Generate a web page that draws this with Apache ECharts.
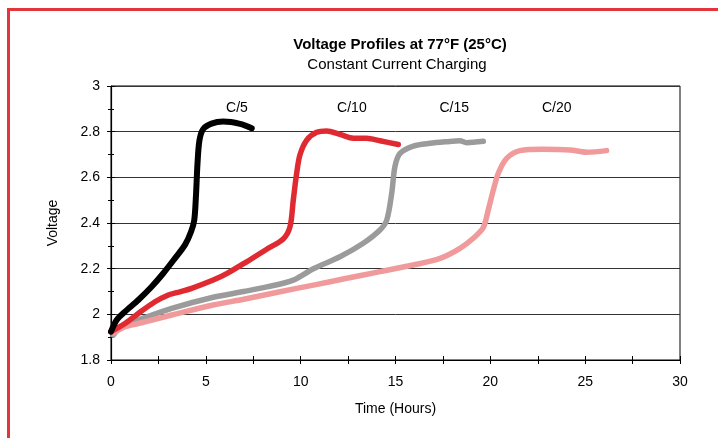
<!DOCTYPE html>
<html>
<head>
<meta charset="utf-8">
<script src="https://cdn.jsdelivr.net/npm/echarts@6/dist/echarts.min.js"></script>
<style>
html,body{margin:0;padding:0;background:#fff;}
#chart{width:718px;height:438px;}
</style>
</head>
<body>
<div id="chart"></div>
<script>
// ---- data ----
const c5X  = [0, 0.30, 0.74, 1.44, 2.14, 2.76, 3.37, 3.90, 4.22, 4.39, 4.48, 4.56, 4.66, 4.85, 5.30, 5.92, 6.80, 7.42];
const c5Y  = [1.924, 1.975, 2.012, 2.063, 2.121, 2.18, 2.245, 2.304, 2.362, 2.413, 2.52, 2.66, 2.76, 2.81, 2.835, 2.844, 2.834, 2.815];

const c10X = [0, 0.74, 1.44, 2.32, 3.02, 3.46, 4.25, 5.39, 6.10, 7.15, 8.21, 9.08, 9.44, 9.61, 9.79, 9.96, 10.32, 10.84, 11.37, 12.07, 12.78, 13.48, 14.18, 15.15];
const c10Y = [1.924, 1.96, 2.004, 2.055, 2.085, 2.095, 2.114, 2.15, 2.178, 2.23, 2.285, 2.33, 2.384, 2.50, 2.618, 2.698, 2.763, 2.797, 2.803, 2.788, 2.771, 2.771, 2.76, 2.744];

const c15X = [0.12, 0.56, 1.44, 3.20, 5.39, 7.00, 8.21, 9.61, 10.67, 12.07, 13.30, 14.18, 14.54, 14.80, 14.97, 15.24, 15.94, 16.82, 17.70, 18.40, 18.75, 19.63];
const c15Y = [1.909, 1.946, 1.975, 2.026, 2.075, 2.10, 2.12, 2.15, 2.20, 2.252, 2.311, 2.369, 2.413, 2.53, 2.647, 2.705, 2.737, 2.749, 2.756, 2.76, 2.752, 2.758];

const c20X = [0.12, 0.74, 1.44, 3.20, 5.39, 7.00, 8.91, 10.67, 12.43, 14.18, 15.94, 17.35, 18.40, 19.10, 19.63, 19.89, 20.16, 20.42, 20.86, 21.56, 22.79, 24.20, 25.08, 26.13];
const c20Y = [1.917, 1.946, 1.96, 1.997, 2.041, 2.066, 2.099, 2.128, 2.158, 2.187, 2.216, 2.245, 2.289, 2.333, 2.38, 2.457, 2.545, 2.618, 2.683, 2.717, 2.723, 2.72, 2.71, 2.717];

const curveLabels = ['C/5', 'C/10', 'C/15', 'C/20'];
const curveLabelX = [6.64, 12.7, 18.1, 23.5];
const curveLabelY = [2.904, 2.904, 2.904, 2.904];

const titleText = 'Voltage Profiles at 77°F (25°C)';
const subtitleText = 'Constant Current Charging';
const xName = 'Time (Hours)';
const yName = 'Voltage';

// ---- build ----
const zip = (xs, ys) => xs.map((x, i) => [x, ys[i]]);
const FONT = '"Liberation Sans", Arial, sans-serif';

const chart = echarts.init(document.getElementById('chart'), null, {renderer: 'canvas'});

function xAxisCfg(inside) {
  return {
    type: 'value', min: 0, max: 30, interval: 5, position: 'bottom',
    name: inside ? '' : xName, nameLocation: 'middle', nameGap: 42,
    nameTextStyle: {fontFamily: FONT, fontSize: 14, color: '#000'},
    axisLine: {show: !inside, onZero: false, lineStyle: {color: '#000', width: 1.2}},
    axisTick: {show: true, inside: inside, length: 4, lineStyle: {color: '#000'}},
    minorTick: {show: true, splitNumber: 2, length: 4, lineStyle: {color: '#000'}},
    axisLabel: {show: !inside, margin: 15, fontFamily: FONT, fontSize: 14, color: '#000'},
    splitLine: {show: false}
  };
}
function yAxisCfg(inside) {
  return {
    type: 'value', min: 1.8, max: 3, interval: 0.2, position: 'left',
    name: inside ? '' : yName, nameLocation: 'middle', nameGap: 51,
    nameTextStyle: {fontFamily: FONT, fontSize: 14, color: '#000'},
    axisLine: {show: !inside, onZero: false, lineStyle: {color: '#000', width: 1.2}},
    axisTick: {show: true, inside: inside, length: 4, lineStyle: {color: '#000'}},
    minorTick: {show: true, splitNumber: 2, length: 3, lineStyle: {color: '#000'}},
    axisLabel: {show: !inside, margin: 11, fontFamily: FONT, fontSize: 14, color: '#000'},
    splitLine: {show: !inside, lineStyle: {color: '#333', width: 1}}
  };
}

function lineSeries(name, xs, ys, color, width) {
  return {
    name: name, type: 'line', data: zip(xs, ys),
    showSymbol: false, symbol: 'none', smooth: 0.3,
    lineStyle: {color: color, width: width, cap: 'round', join: 'round'},
    xAxisIndex: 0, yAxisIndex: 0, silent: true, animation: false
  };
}

const option = {
  animation: false,
  backgroundColor: '#fff',
  grid: {left: 111, right: 38, top: 86, bottom: 78, show: true, borderColor: '#000', borderWidth: 1, backgroundColor: 'transparent'},
  xAxis: [xAxisCfg(false), xAxisCfg(true)],
  yAxis: [yAxisCfg(false), yAxisCfg(true)],
  graphic: [
    {type: 'rect', shape: {x: 7, y: 8, width: 711, height: 3}, style: {fill: '#e2363c'}, silent: true},
    {type: 'rect', shape: {x: 7, y: 8, width: 3, height: 430}, style: {fill: '#e2363c'}, silent: true},
    {type: 'text', x: 400, y: 45, style: {text: titleText, fontFamily: FONT, fontWeight: 'bold', fontSize: 15, fill: '#000', align: 'center', verticalAlign: 'middle'}},
    {type: 'text', x: 397, y: 65, style: {text: subtitleText, fontFamily: FONT, fontSize: 15, fill: '#000', align: 'center', verticalAlign: 'middle'}}
  ],
  series: [
    lineSeries('C/15', c15X, c15Y, '#9b9b9b', 5.5),
    lineSeries('C/20', c20X, c20Y, '#f19a9c', 5.5),
    lineSeries('C/10', c10X, c10Y, '#e02a32', 5.5),
    lineSeries('C/5',  c5X,  c5Y,  '#000000', 6),
    {
      type: 'scatter', symbolSize: 1, silent: true,
      itemStyle: {opacity: 0, color: '#fff'},
      data: curveLabels.map((t, i) => [curveLabelX[i], curveLabelY[i], t]),
      label: {show: true, position: 'inside', align: 'center', verticalAlign: 'middle',
              formatter: p => p.data[2], fontFamily: FONT, fontSize: 14, color: '#000',
              textBorderWidth: 0, textBorderColor: 'transparent', opacity: 1}
    }
  ]
};
chart.setOption(option);
</script>
</body>
</html>
